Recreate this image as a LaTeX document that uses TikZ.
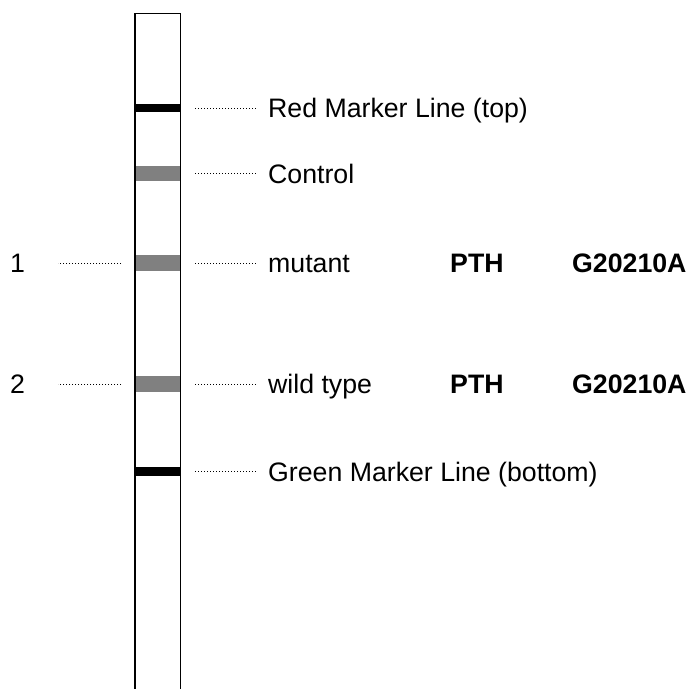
\documentclass[tikz,border=0pt]{standalone}
\usepackage{fontspec}
\setmainfont{Liberation Sans}
\definecolor{bandgray}{RGB}{128,128,128}
\begin{document}
\begin{tikzpicture}[x=1pt,y=-1pt,
  band/.style={rectangle, inner sep=0pt, minimum width=45.5pt, anchor=west},
  darkband/.style={band, fill=black},
  greyband/.style={band, fill=bandgray},
  lbl/.style={anchor=base west, inner sep=0pt, font=\fontsize{26.7}{32}\selectfont},
  blbl/.style={lbl, font=\fontsize{26.7}{32}\selectfont\bfseries},
  dotline/.style={line width=1pt, dash pattern=on 1pt off 2pt},
  strip/.style={line width=1.8pt}]
\useasboundingbox (0,0) rectangle (690,688);
% bands
\node[darkband, minimum height=8pt] (red) at (135,108) {};
\node[greyband, minimum height=15pt] (ctl) at (135,173.5) {};
\node[greyband, minimum height=16pt] (mut) at (135,263) {};
\node[greyband, minimum height=16pt] (wt) at (135,384) {};
\node[darkband, minimum height=9pt] (grn) at (135,471.5) {};
% strip outline
\draw[strip] (135,689) -- (135,13.5) -- (180.5,13.5) -- (180.5,689);
% labels
\node[lbl] (lred) at (268,117.5) {Red Marker Line (top)};
\node[lbl] (lctl) at (268,183) {Control};
\node[lbl] (lmut) at (268,272.5) {mutant};
\node[blbl] (pmut) at (450,272.5) {PTH};
\node[blbl] (gmut) at (572,272.5) {G20210A};
\node[lbl] (lwt) at (268,393.5) {wild type};
\node[blbl] (pwt) at (450,393.5) {PTH};
\node[blbl] (gwt) at (572,393.5) {G20210A};
\node[lbl] (lgrn) at (268,481) {Green Marker Line (bottom)};
\node[lbl] (n1) at (10,272.5) {1};
\node[lbl] (n2) at (10,393.5) {2};
% dotted connectors right
\foreach \b/\l in {red/lred, ctl/lctl, mut/lmut, wt/lwt, grn/lgrn}
  \draw[dotline] ([xshift=14.5pt]\b.east) -- ([xshift=-11pt]\b.east -| \l.west);
% dotted connectors left
\draw[dotline] ([xshift=-14pt]mut.west) -- ([xshift=-77pt]mut.west);
\draw[dotline] ([xshift=-14pt]wt.west) -- ([xshift=-77pt]wt.west);
\end{tikzpicture}
\end{document}
